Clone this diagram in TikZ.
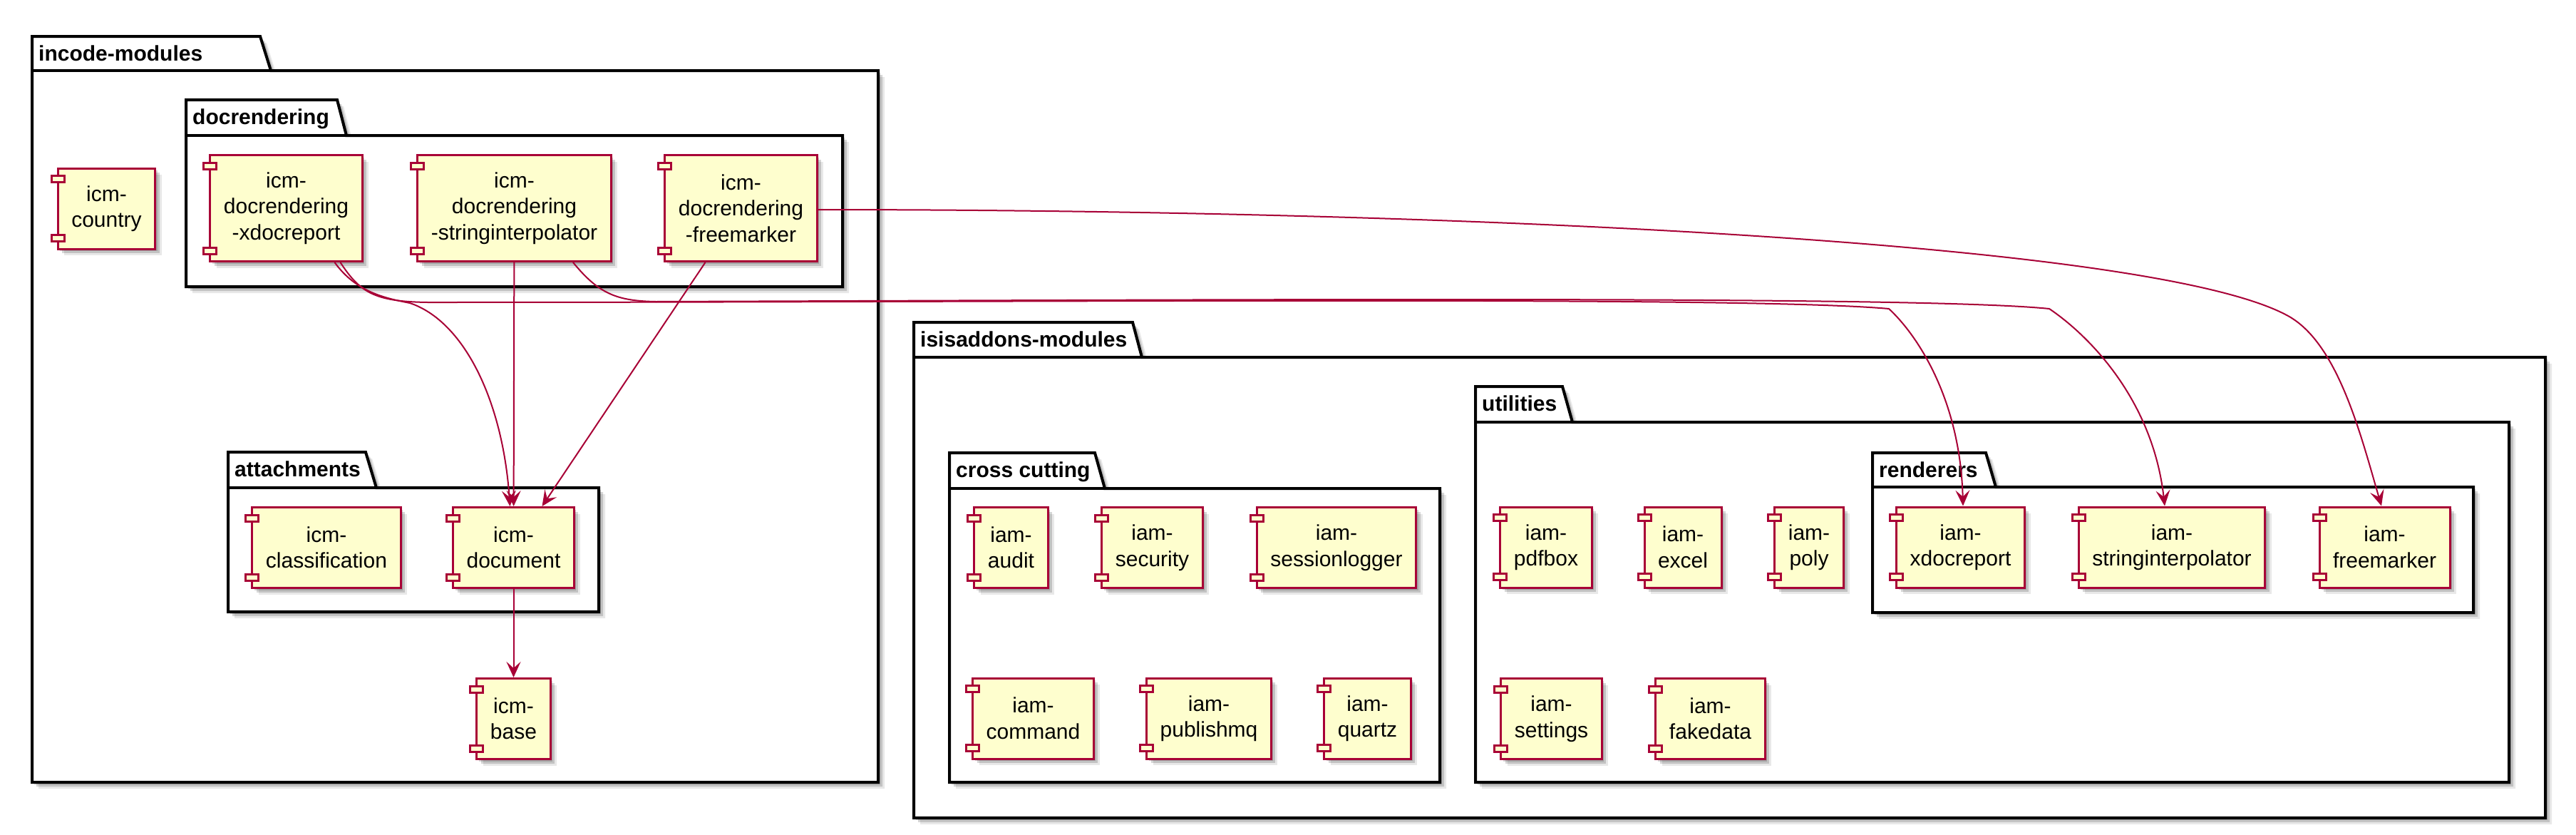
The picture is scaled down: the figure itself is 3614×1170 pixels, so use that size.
\documentclass[tikz,border=0pt]{standalone}
\usepackage{fontspec}
\setmainfont{Liberation Sans}
\usepackage{xcolor}
\usetikzlibrary{arrows.meta,shadows,positioning}
\definecolor{umlred}{HTML}{A80036}
\definecolor{umlfill}{HTML}{FEFECE}
\tikzstyle{shadowed} = [drop shadow={shadow xshift=3pt, shadow yshift=-3pt, fill=black, opacity=0.16}, drop shadow={shadow xshift=6pt, shadow yshift=-6pt, fill=black, opacity=0.16}, drop shadow={shadow xshift=9pt, shadow yshift=-9pt, fill=black, opacity=0.09}]
\tikzstyle{component} = [rectangle, draw=umlred, fill=umlfill, line width=3pt, align=center, inner xsep=19pt, minimum height=113pt, font=\fontsize{30}{36.5}\selectfont, shadowed]
\tikzstyle{tall} = [minimum height=149pt]
\tikzstyle{port} = [draw=umlred, fill=umlfill, line width=3pt]
\tikzstyle{package} = [draw=black, fill=white, line width=4pt, shadowed]
\tikzstyle{pkgline} = [draw=black, line width=4pt]
\tikzstyle{pkgtitle} = [anchor=base west, inner sep=0pt, font=\fontsize{30}{36}\selectfont\bfseries]
\tikzstyle{arrow} = [draw=umlred, line width=2pt, ->, >={Stealth[length=22pt, width=20pt, inset=9pt]}]

\begin{document}
\begin{tikzpicture}[x=1pt, y=-1pt]
                    \useasboundingbox (0,0) rectangle (3614,1170);
                    \filldraw [package] (45,1097) -- (45,51) -- (365,51) -- (380,99) -- (1232,99) -- (1232,1097) -- cycle;
                    \draw [pkgline] (45,99) -- (380,99);
                    \node (Incode) [pkgtitle] at (54,85) {incode-modules};
                    \filldraw [package] (261,402) -- (261,140) -- (473,140) -- (486,190) -- (1182,190) -- (1182,402) -- cycle;
                    \draw [pkgline] (261,190) -- (486,190);
                    \node (DocRend) [pkgtitle] at (270,174) {docrendering};
                    \filldraw [package] (320,858) -- (320,634) -- (513,634) -- (528,684) -- (840,684) -- (840,858) -- cycle;
                    \draw [pkgline] (320,684) -- (528,684);
                    \node (Attach) [pkgtitle] at (329,668) {attachments};
                    \filldraw [package] (1282,1147) -- (1282,452) -- (1589,452) -- (1602,501) -- (3571,501) -- (3571,1147) -- cycle;
                    \draw [pkgline] (1282,501) -- (1602,501);
                    \node (Isis) [pkgtitle] at (1291,486) {isisaddons-modules};
                    \filldraw [package] (1332,1097) -- (1332,635) -- (1536,635) -- (1550,685) -- (2020,685) -- (2020,1097) -- cycle;
                    \draw [pkgline] (1332,685) -- (1550,685);
                    \node (Cross) [pkgtitle] at (1341,669) {cross cutting};
                    \filldraw [package] (2070,1097) -- (2070,542) -- (2192,542) -- (2206,592) -- (3520,592) -- (3520,1097) -- cycle;
                    \draw [pkgline] (2070,592) -- (2206,592);
                    \node (Util) [pkgtitle] at (2079,576) {utilities};
                    \filldraw [package] (2627,859) -- (2627,635) -- (2786,635) -- (2800,683) -- (3470,683) -- (3470,859) -- cycle;
                    \draw [pkgline] (2627,683) -- (2800,683);
                    \node (Rend) [pkgtitle] at (2636,669) {renderers};
                    \node (Country) [component] at (149.5,292.5) {icm-\\country};
                    \node (DocXdoc) [component, tall] at (401.5,292) {icm-\\docrendering\\-xdocreport};
                    \node (DocStr) [component, tall] at (721.5,292) {icm-\\docrendering\\-stringinterpolator};
                    \node (DocFm) [component, tall] at (1039.5,292) {icm-\\docrendering\\-freemarker};
                    \node (Classif) [component] at (458,768) {icm-\\classification};
                    \node (Doc) [component] at (720.5,768) {icm-\\document};
                    \node (Base) [component] at (720.5,1008) {icm-\\base};
                    \node (Audit) [component] at (1418.5,768) {iam-\\audit};
                    \node (Security) [component] at (1616.5,768) {iam-\\security};
                    \node (SessLog) [component] at (1875,768) {iam-\\sessionlogger};
                    \node (Command) [component] at (1449.5,1007.5) {iam-\\command};
                    \node (PubMq) [component] at (1696,1007.5) {iam-\\publishmq};
                    \node (Quartz) [component] at (1918.5,1007.5) {iam-\\quartz};
                    \node (PdfBox) [component] at (2169,767.5) {iam-\\pdfbox};
                    \node (Excel) [component] at (2361,767.5) {iam-\\excel};
                    \node (Poly) [component] at (2538,767.5) {iam-\\poly};
                    \node (RXdoc) [component] at (2750.5,767.5) {iam-\\xdocreport};
                    \node (RStr) [component] at (3047,767.5) {iam-\\stringinterpolator};
                    \node (RFm) [component] at (3345.5,767.5) {iam-\\freemarker};
                    \node (Settings) [component] at (2176.5,1008) {iam-\\settings};
                    \node (FakeData) [component] at (2399.5,1008) {iam-\\fakedata};
                    \foreach \c in {Country,DocXdoc,DocStr,DocFm,Classif,Doc,Base,Audit,Security,SessLog,Command,PubMq,Quartz,PdfBox,Excel,Poly,RXdoc,RStr,RFm,Settings,FakeData} {
                        \draw [port] ([xshift=-7.5pt,yshift=-12pt]\c.north west) rectangle ++(18pt,-9pt);
                        \draw [port] ([xshift=-7.5pt,yshift=12pt]\c.south west) rectangle ++(18pt,9pt);
                    }
                    \draw [arrow] ([xshift=68pt]DocXdoc.south) .. controls (500,410) and (540,418) .. (575,425) .. controls (650,450) and (705,560) .. ([xshift=-5pt]Doc.north);
                    \draw [arrow] (DocStr) -- (Doc);
                    \draw [arrow] ([xshift=-50pt]DocFm.south) -- ([xshift=40pt]Doc.north);
                    \draw [arrow] (Doc) -- (Base);
                    \draw [arrow] ([xshift=76pt]DocXdoc.south) .. controls (505,410) and (525,423) .. (600,424) .. controls (1500,424) and (2450,415) .. (2650,433) .. controls (2690,470) and (2750,560) .. ([xshift=3.5pt]RXdoc.north);
                    \draw [arrow] ([xshift=82.5pt]DocStr.south) .. controls (840,412) and (865,422) .. (920,423) .. controls (1800,420) and (2700,415) .. (2875,433) .. controls (2930,470) and (3020,560) .. ([xshift=-10pt]RStr.north);
                    \draw [arrow] ([yshift=-2pt]DocFm.east) .. controls (1948,294) and (3010,333) .. (3210,443) .. controls (3280,481.5) and (3312,610) .. ([xshift=-4.5pt]RFm.north);
                \end{tikzpicture}
\end{document}
